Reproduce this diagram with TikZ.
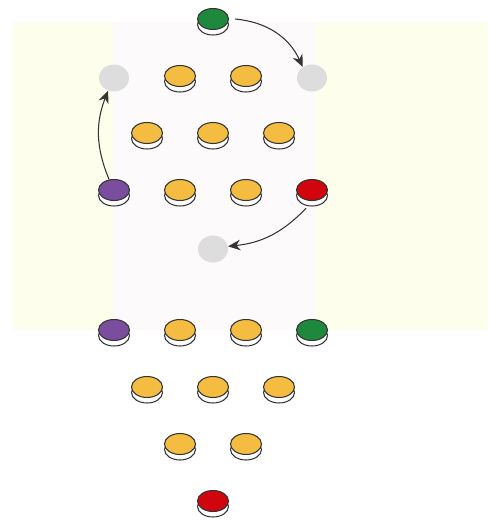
\documentclass[tikz,border=0pt]{standalone}
\usepackage{xcolor}
\usepackage{tikz}
\usetikzlibrary{shapes.geometric,shadows,arrows.meta}
\definecolor{color_fond}{rgb}{0.996,0.996,0.925}
\definecolor{color_bande}{rgb}{0.992,0.980,0.984}
\definecolor{color_jaune}{rgb}{0.957,0.741,0.259}
\definecolor{color_vert}{rgb}{0.118,0.537,0.239}
\definecolor{color_violet}{rgb}{0.478,0.302,0.624}
\definecolor{color_rouge}{rgb}{0.816,0.020,0.055}
\definecolor{color_gris}{rgb}{0.867,0.867,0.867}
\definecolor{color_bord}{rgb}{0.2,0.2,0.2}

\tikzset{
	pion/.style={ellipse, inner sep=0pt, minimum width=0.62cm, minimum height=0.42cm,
		draw=color_bord, line width=0.6pt,
		general shadow={fill=white, draw=color_bord, line width=0.6pt, shadow yshift=-0.11cm}},
	fantome/.style={ellipse, inner sep=0pt, minimum width=0.6cm, minimum height=0.54cm, fill=color_gris},
	fleche/.style={-{Stealth[length=7pt,width=6pt]}, color_bord, line width=0.6pt}
}

\begin{document}
\begin{tikzpicture}[x=0.02cm, y=-0.02cm]
			\useasboundingbox (0,0) rectangle (488,521);
			
			% Fond jaune et bande claire
			\fill[color_fond] (13,22) rectangle (488,330);
			\fill[color_bande] (113,22) rectangle (316,330);
			
			% Position de depart
			\node[pion, fill=color_vert] (vert1) at (213,19) {};
			\node[fantome] (gris1) at (114,78) {};
			\node[fantome] (gris2) at (312,78) {};
			\node[pion, fill=color_violet] (violet1) at (114,190) {};
			\node[pion, fill=color_rouge] (rouge1) at (312,190) {};
			\node[fantome] (gris3) at (213,249) {};
			\foreach \x/\y/\nom in {180/76/ja1, 246/76/ja2, 147/133/ja3, 213/133/ja4, 279/133/ja5, 180/190/ja6, 246/190/ja7}
				\node[pion, fill=color_jaune] (\nom) at (\x,\y) {};
			
			% Deplacements
			\draw[fleche] ([xshift=0.12cm]vert1.east) to[bend left=30] (gris2.130);
			\draw[fleche] (violet1.115) to[bend left=22] (gris1.245);
			\draw[fleche] ([yshift=-0.16cm]rouge1.240) to[bend left=20] (gris3.10);
			
			% Position d'arrivee
			\node[pion, fill=color_violet] (violet2) at (114,330) {};
			\node[pion, fill=color_vert] (vert2) at (312,330) {};
			\node[pion, fill=color_rouge] (rouge2) at (213,501) {};
			\foreach \x/\y/\nom in {180/330/jb1, 246/330/jb2, 147/387/jb3, 213/387/jb4, 279/387/jb5, 180/444/jb6, 246/444/jb7}
				\node[pion, fill=color_jaune] (\nom) at (\x,\y) {};
		\end{tikzpicture}
\end{document}
